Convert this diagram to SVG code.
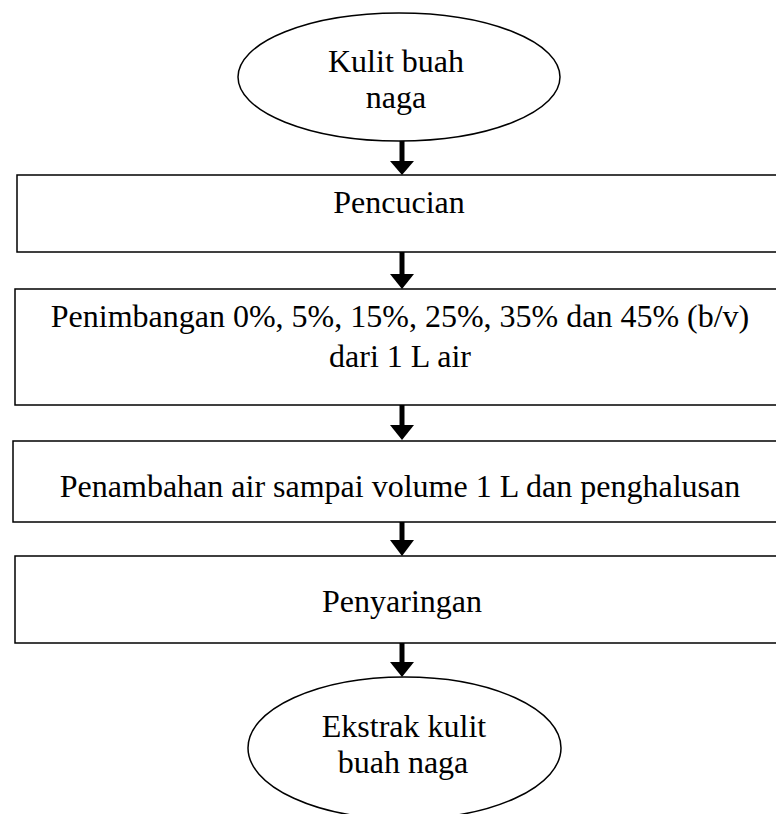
<svg xmlns="http://www.w3.org/2000/svg" width="776" height="814" viewBox="0 0 776 814">
<style>
.shape{fill:#fff;stroke:#000;stroke-width:1.5}
.lbl{font-family:"Liberation Serif","Times New Roman",serif;font-size:32px;fill:#000;text-anchor:middle}
.conn{stroke:#000;stroke-width:5;fill:none}
.head{fill:#000}
</style>
<rect width="776" height="814" fill="#fff"/>
<g id="start">
<ellipse class="shape" cx="399" cy="77" rx="161" ry="64"/>
<text class="lbl" x="396" y="72">Kulit buah</text>
<text class="lbl" x="396" y="108">naga</text>
</g>
<g id="pencucian">
<rect class="shape" x="17" y="175" width="770" height="77"/>
<text class="lbl" x="399" y="213">Pencucian</text>
</g>
<g id="penimbangan">
<rect class="shape" x="15" y="289" width="772" height="116"/>
<text class="lbl" x="400" y="327">Penimbangan 0%, 5%, 15%, 25%, 35% dan 45% (b/v)</text>
<text class="lbl" x="400" y="367">dari 1 L air</text>
</g>
<g id="penambahan">
<rect class="shape" x="13" y="441" width="774" height="81"/>
<text class="lbl" x="400" y="497">Penambahan air sampai volume 1 L dan penghalusan</text>
</g>
<g id="penyaringan">
<rect class="shape" x="15" y="556" width="772" height="87"/>
<text class="lbl" x="402" y="612">Penyaringan</text>
</g>
<g id="end">
<ellipse class="shape" cx="404.5" cy="748" rx="156.5" ry="71"/>
<text class="lbl" x="404" y="737">Ekstrak kulit</text>
<text class="lbl" x="403" y="773">buah naga</text>
</g>
<g id="connectors">
<line class="conn" x1="402" y1="141" x2="402" y2="162"/>
<polygon class="head" points="390,161 414,161 402,175"/>
<line class="conn" x1="402" y1="252" x2="402" y2="275"/>
<polygon class="head" points="390,274 414,274 402,289"/>
<line class="conn" x1="402" y1="405" x2="402" y2="426"/>
<polygon class="head" points="390,425 414,425 402,440"/>
<line class="conn" x1="402" y1="522" x2="402" y2="541"/>
<polygon class="head" points="390,540 414,540 402,556"/>
<line class="conn" x1="402" y1="643" x2="402" y2="663"/>
<polygon class="head" points="390,662 414,662 402,677"/>
</g>
</svg>
